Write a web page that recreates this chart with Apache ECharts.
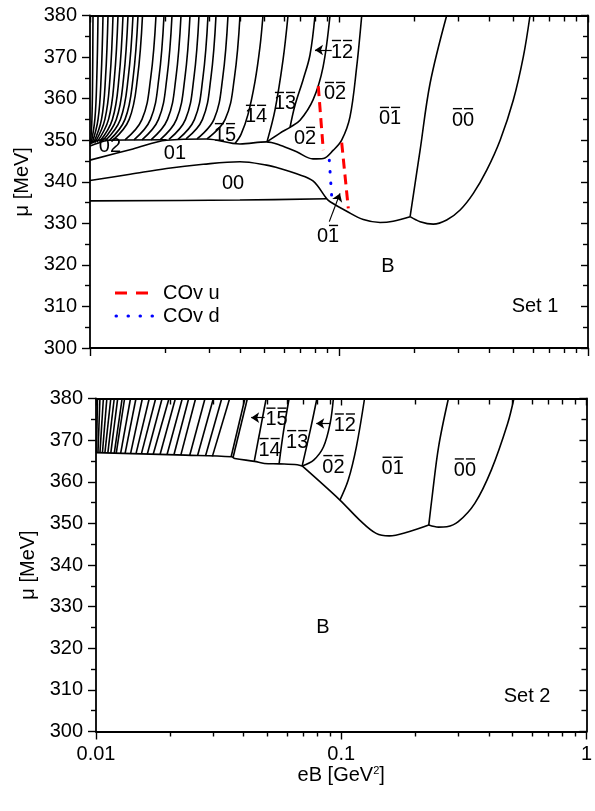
<!DOCTYPE html>
<html>
<head>
<meta charset="utf-8">
<script src="https://cdn.jsdelivr.net/npm/echarts@6/dist/echarts.min.js"></script>
<style>html,body{margin:0;padding:0;background:#fff}#main{width:595px;height:811px}</style>
</head>
<body>
<div id="main"></div>
<script>
var O = '\u0305'; // combining overline marks a barred index

// x axis ticks (eB, GeV^2)
var majorTicks = [0.01, 0.1, 1];
var minorTicks = [0.02, 0.03, 0.04, 0.05, 0.06, 0.07, 0.08, 0.09, 0.2, 0.3, 0.4, 0.5, 0.6, 0.7, 0.8, 0.9];
var xTickLabels = ['0.01', '0.1', '1'];

// ---------- Set 1 ----------
// Landau level fan lines above mu ~ 350 : [bottom, mu = 355, mu = 365, top]
var set1Fan = [
  [[0.0100464, 349.0], [0.0101773, 355], [0.0102433, 365], [0.0102813, 380]],
  [[0.0100929, 349.1], [0.0104587, 355], [0.0106490, 365], [0.0107678, 380]],
  [[0.0101867, 349.2], [0.0107728, 355], [0.0110810, 365], [0.0112774, 380]],
  [[0.0103290, 349.3], [0.0111220, 355], [0.0115411, 365], [0.0118110, 380]],
  [[0.0104732, 349.4], [0.0114773, 355], [0.0120315, 365], [0.0123699, 380]],
  [[0.0106687, 349.5], [0.0118712, 355], [0.0125311, 365], [0.0129553, 380]],
  [[0.0109183, 349.6], [0.0123015, 355], [0.0130757, 365], [0.0135684, 380]],
  [[0.0111736, 349.7], [0.0127533, 355], [0.0136439, 365], [0.0142105, 380]],
  [[0.0114879, 349.8], [0.0132460, 355], [0.0142368, 365], [0.0148830, 380]],
  [[0.0119209, 349.9], [0.0138217, 355], [0.0148968, 365], [0.0155873, 380]],
  [[0.0123699, 350.0], [0.0143691, 355], [0.0155154, 365], [0.0162496, 380]],
  [[0.0138217, 350.1], [0.0161746, 355], [0.0175301, 365], [0.0184107, 380]],
  [[0.0150216, 350.1], [0.0174977, 355], [0.0189111, 365], [0.0198244, 380]],
  [[0.0161746, 350.1], [0.0188413, 355], [0.0203633, 365], [0.0213467, 380]],
  [[0.0175788, 350.1], [0.0204766, 355], [0.0221306, 365], [0.0231994, 380]],
  [[0.0191040, 350.1], [0.0222538, 355], [0.0240513, 365], [0.0252120, 380]],
  [[0.0207623, 350.2], [0.0241851, 355], [0.0261379, 365], [0.0274001, 380]],
  [[0.0225642, 350.2], [0.0262834, 355], [0.0284063, 365], [0.0297781, 380]],
  [[0.0242963, 350.3], [0.0283014, 355], [0.0305875, 365], [0.0320645, 380]],
  [[0.0268979, 350.3], [0.0314770, 355], [0.0341139, 365], [0.0358275, 380]],
  [[0.0295040, 350.3], [0.0348956, 355], [0.0380122, 365], [0.0400329, 380]]
];
var set1Floor = [[0.01, 335.4], [0.04, 335.6], [0.0893, 335.9]];
var set1Dome = [[0.01, 340.3], [0.0145, 341.8], [0.0203, 343.2], [0.0285, 344.2], [0.040, 344.8], [0.0512, 344.0],
  [0.058, 343.2], [0.0676, 341.9], [0.0786, 340.2], [0.0893, 335.9], [0.0921, 335.2], [0.1074, 332.9],
  [0.1252, 330.9], [0.1462, 330.2], [0.165, 330.5], [0.193, 331.6]];
var set1Bowl = [[0.193, 331.6], [0.2117, 330.4], [0.2391, 329.8], [0.2707, 330.8], [0.3065, 333.2], [0.3463, 337.2],
  [0.392, 342.8], [0.4437, 350.0], [0.501, 359.6], [0.55, 370.1], [0.585, 380]];
var set1Cusp = [[0.193, 331.6], [0.2117, 347.6], [0.2322, 363.7], [0.2707, 380]];
var set1Upper01 = [[0.01, 345.2], [0.01488, 347.9], [0.0203, 350.0], [0.0294, 350.3], [0.040, 349.1], [0.0512, 349.6],
  [0.058, 348.8], [0.0676, 347.2], [0.0786, 345.5], [0.0865, 345.6], [0.0949, 347.6], [0.1025, 350.0],
  [0.1107, 355.6], [0.1178, 367.7], [0.1234, 380]];
var set1Cap02a = [[0.01, 348.6], [0.0109, 349.4], [0.0118, 350.0], [0.0203, 350.1]];
var set1Cap02b = [[0.01, 349.4], [0.0106, 349.9], [0.0112, 350.1]];
var set1L15 = [[0.038226, 349.2], [0.040410, 351.4], [0.043108, 356.2], [0.045980, 364.1], [0.048162, 372.5], [0.049518, 380]];
var set1L14 = [[0.051379, 349.6], [0.055344, 357.3], [0.059594, 369.3], [0.062414, 380]];
var set1L02 = [[0.051379, 349.6], [0.057964, 351.7], [0.063582, 353.1], [0.069745, 354.8], [0.078653, 359.7], [0.086276, 367.6], [0.092013, 380]];
var set1L13 = [[0.063582, 353.1], [0.066571, 358.4], [0.071706, 364.5], [0.076472, 370.5], [0.080093, 380]];
var set1CovU = [[[0.082569, 363.0], [0.086475, 347.6]], [[0.10253, 349.4], [0.10898, 333.6]]];
var set1CovD = [[0.091411, 345.2], [0.093470, 336.4]];
var set1Labels = [
  ['02', 0.012031, 348.4], ['01', 0.021944, 346.7], ['00', 0.037531, 339.5],
  ['1' + O + '5' + O, 0.034842, 351.7], ['1' + O + '4' + O, 0.046416, 356.1], ['1' + O + '3' + O, 0.060691, 359.2],
  ['0' + O + '2' + O, 0.096368, 361.6], ['02' + O, 0.073017, 350.8], ['0' + O + '1' + O, 0.16030, 355.6],
  ['0' + O + '0' + O, 0.31474, 355.3], ['01' + O, 0.090319, 327.2], ['1' + O + '2' + O, 0.10281, 371.7],
  ['B', 0.15736, 319.5], ['Set 1', 0.6126, 309.9]
];
var set1Arrows = [[[0.093470, 371.7], [0.080093, 371.7]], [[0.091411, 330.4], [0.10093, 337.2]]];

// ---------- Set 2 ----------
var set2Fan = [
  [[0.010046, 367.0], [0.010140, 380]], [[0.010187, 367.0], [0.010377, 380]], [[0.010377, 367.0], [0.010719, 380]],
  [[0.010621, 366.9], [0.011073, 380]], [[0.010870, 366.9], [0.011491, 380]], [[0.011176, 366.9], [0.011869, 380]],
  [[0.011491, 366.9], [0.012260, 380]], [[0.011869, 366.8], [0.012782, 380]], [[0.012091, 366.8], [0.013081, 380]],
  [[0.012605, 366.8], [0.013828, 380]], [[0.013142, 366.8], [0.014553, 380]], [[0.013828, 366.7], [0.015456, 380]],
  [[0.014553, 366.7], [0.016488, 380]], [[0.015313, 366.7], [0.017513, 380]], [[0.016186, 366.6], [0.018603, 380]],
  [[0.017112, 366.6], [0.019847, 380]], [[0.018262, 366.6], [0.021078, 380]], [[0.019479, 366.5], [0.022489, 380]],
  [[0.020788, 366.5], [0.023883, 380]], [[0.022179, 366.4], [0.025482, 380]], [[0.024105, 366.3], [0.027832, 380]],
  [[0.025957, 366.3], [0.030104, 380]], [[0.027961, 366.2], [0.032572, 380]], [[0.029827, 366.1], [0.035081, 380]],
  [[0.035572, 366.0], [0.040492, 380]], [[0.036237, 365.9], [0.041441, 380]], [[0.044220, 365.0], [0.049424, 380]]
];
var set2Floor = [[0.01, 367.0], [0.0232, 366.4], [0.0357, 366.0], [0.0368, 365.6], [0.0443, 364.9], [0.0486, 364.4],
  [0.0558, 364.3], [0.0662, 364.1], [0.0693, 363.8]];
var set2Valley = [[0.0693, 363.8], [0.0988, 355.6], [0.1189, 350.8], [0.1388, 347.6], [0.1570, 347.0], [0.1885, 348.0], [0.2275, 349.6]];
var set2Bowl = [[0.2275, 349.6], [0.2495, 349.1], [0.2696, 349.2], [0.3002, 350.4], [0.3505, 354.8], [0.4092, 362.8],
  [0.4772, 374.0], [0.5060, 380]];
var set2Cusp = [[0.2275, 349.6], [0.2348, 356.4], [0.2495, 368.4], [0.2736, 380]];
var set2R02 = [[0.0988, 355.6], [0.1068, 360.4], [0.1153, 368.4], [0.1245, 380]];
var set2L12 = [[0.0693, 363.8], [0.0772, 365.2], [0.0847, 368.4], [0.0901, 374.0], [0.0929, 380]];
var set2L13 = [[0.0693, 363.8], [0.0748, 372.4], [0.0796, 380]];
var set2L14 = [[0.0558, 364.3], [0.0581, 371.9], [0.0613, 380]];
var set2Labels = [
  ['1' + O + '5' + O, 0.054456, 375.4], ['1' + O + '4' + O, 0.051048, 368.1], ['1' + O + '3' + O, 0.066152, 370.0],
  ['1' + O + '2' + O, 0.10348, 374.0], ['0' + O + '2' + O, 0.092943, 364.0], ['0' + O + '1' + O, 0.16207, 363.6],
  ['0' + O + '0' + O, 0.31944, 363.2], ['B', 0.084176, 324.9], ['Set 2', 0.5726, 308.3]
];
var set2Arrows = [[[0.048732, 375.4], [0.042928, 375.4]], [[0.090063, 374.0], [0.079111, 374.0]]];

var FONT = 'Liberation Sans';
var FS = 20;
var DW = 11.1; // digit advance at FS
var lg = function (v) { return Math.log(v) / Math.LN10; };

// text with combining overlines -> two-line rich text (bars above digits)
function barText(s) {
  if (s.indexOf(O) < 0) return s;
  var top = '', bottom = '';
  for (var i = 0; i < s.length; i++) {
    var c = s.charAt(i);
    if (c === O) continue;
    var barred = s.charAt(i + 1) === O;
    top += '{g|}' + (barred ? '{bar|}' : '{nb|}') + '{g|}';
    bottom += '{d|' + c + '}';
  }
  return top + '\n' + bottom;
}
var labelRich = {
  g: { width: 1, height: 1.4, lineHeight: 4 },
  bar: { width: DW - 2, height: 1.4, lineHeight: 4, backgroundColor: '#000' },
  nb: { width: DW - 2, height: 1.4, lineHeight: 4 },
  d: { width: DW, fontSize: FS, lineHeight: 19, fontFamily: FONT, color: '#000' }
};

function tickAxis(grid, pos, vals, len, inside, showLine, withLabels) {
  var ax = {
    type: 'value', gridIndex: grid, position: pos, min: -2, max: 0,
    axisLine: { show: showLine, onZero: false, lineStyle: { color: '#000', width: 1.8 } },
    axisTick: { show: true, inside: inside, length: len, customValues: vals.map(lg), lineStyle: { color: '#000', width: 1.4 } },
    axisLabel: { show: false },
    splitLine: { show: false }
  };
  if (withLabels) {
    ax.axisLabel = {
      show: true, customValues: majorTicks.map(lg), color: '#000', fontSize: FS, fontFamily: FONT, margin: 13,
      formatter: function (v) {
        var i = 0;
        majorTicks.forEach(function (t, k) { if (Math.abs(lg(t) - v) < 1e-6) i = k; });
        return xTickLabels[i];
      }
    };
    ax.name = 'eB [GeV{s|2}]';
    ax.nameLocation = 'middle';
    ax.nameGap = 32;
    ax.nameTextStyle = { color: '#000', fontSize: FS, fontFamily: FONT,
      rich: { s: { fontSize: 11, fontFamily: FONT, color: '#000', verticalAlign: 'top', padding: [0, 0, 8, 0] } } };
  }
  return ax;
}
function yAxis(grid, pos) {
  var left = pos === 'left';
  return {
    type: 'value', gridIndex: grid, position: pos, min: 300, max: 380, interval: 10,
    axisLine: { show: true, onZero: false, lineStyle: { color: '#000', width: 1.8 } },
    axisTick: { show: true, inside: !left, length: left ? 8 : 7, lineStyle: { color: '#000', width: 1.4 } },
    minorTick: { show: true, splitNumber: 2, length: 5, lineStyle: { color: '#000', width: 1.4 } },
    axisLabel: { show: left, color: '#000', fontSize: FS, fontFamily: FONT, margin: 13 },
    splitLine: { show: false }, minorSplitLine: { show: false },
    name: left ? '\u03bc [MeV]' : '', nameLocation: 'middle', nameGap: 58,
    nameTextStyle: { color: '#000', fontSize: FS, fontFamily: FONT }
  };
}

var series = [];
function curve(data, xi, yi, sm) {
  series.push({
    type: 'line', xAxisIndex: xi, yAxisIndex: yi, data: data, showSymbol: false, symbol: 'none',
    smooth: sm, smoothMonotone: 'none', silent: true,
    lineStyle: { color: '#000', width: 1.6 }
  });
}
function labels(list, arrows, xi, yi) {
  series.push({
    type: 'scatter', xAxisIndex: xi, yAxisIndex: yi, symbolSize: 1, silent: true,
    itemStyle: { color: 'rgba(0,0,0,0)', opacity: 1 },
    data: list.map(function (l) { return { name: l[0], value: [l[1], l[2]] }; }),
    label: {
      show: true, position: 'inside', color: '#000', fontSize: FS, fontFamily: FONT, rich: labelRich,
      formatter: function (p) { return barText(p.name); }
    },
    markLine: {
      silent: true, symbol: ['none', 'arrow'], symbolSize: 8, label: { show: false },
      lineStyle: { color: '#000', width: 1.2, type: 'solid', opacity: 1 },
      data: arrows.map(function (a) { return [{ coord: a[0] }, { coord: a[1] }]; })
    }
  });
}

// Set 1 (top grid: x 0, y 0)
set1Fan.forEach(function (l) { curve(l, 0, 0, 0.4); });
[set1Floor, set1Dome, set1Bowl, set1Cusp, set1Upper01, set1Cap02a, set1Cap02b, set1L15, set1L14, set1L02, set1L13]
  .forEach(function (l) { curve(l, 0, 0, 0.35); });
set1CovU.forEach(function (seg) {
  series.push({ name: 'COv u', type: 'line', xAxisIndex: 0, yAxisIndex: 0, data: seg, symbol: 'none', silent: true,
    lineStyle: { color: '#ff0000', width: 3, type: [10, 6] } });
});
series.push({ name: 'COv d', type: 'line', xAxisIndex: 0, yAxisIndex: 0, data: set1CovD, symbol: 'none', silent: true,
  lineStyle: { color: '#0000ff', width: 3, type: [0.5, 11], cap: 'round' } });
labels(set1Labels, set1Arrows, 0, 0);

// Set 2 (bottom grid: x 5, y 2)
set2Fan.forEach(function (l) { curve(l, 5, 2, false); });
[set2Floor, set2Valley, set2Bowl, set2Cusp, set2R02, set2L12, set2L13, set2L14]
  .forEach(function (l) { curve(l, 5, 2, 0.35); });
labels(set2Labels, set2Arrows, 5, 2);

var option = {
  animation: false,
  backgroundColor: '#fff',
  textStyle: { fontFamily: FONT },
  grid: [
    { left: 90, top: 15.5, width: 498, height: 332.5 },
    { left: 96, top: 398.5, width: 497, height: 333 }
  ],
  // legend of the crossover lines, drawn as in the original figure
  graphic: [
    { type: 'line', shape: { x1: 115, y1: 293, x2: 148, y2: 293 }, style: { stroke: '#ff0000', lineWidth: 3, lineDash: [12, 9] } },
    { type: 'line', shape: { x1: 116, y1: 316, x2: 158, y2: 316 }, style: { stroke: '#0000ff', lineWidth: 3, lineDash: [0.5, 11.5], lineCap: 'round' } },
    { type: 'text', x: 163, y: 293, style: { text: 'COv u', fill: '#000', fontSize: FS, fontFamily: FONT, verticalAlign: 'middle' } },
    { type: 'text', x: 163, y: 316, style: { text: 'COv d', fill: '#000', fontSize: FS, fontFamily: FONT, verticalAlign: 'middle' } }
  ],
  xAxis: [
    { type: 'log', logBase: 10, gridIndex: 0, min: 0.01, max: 1, show: false },
    tickAxis(0, 'bottom', majorTicks, 8, false, true, false),
    tickAxis(0, 'bottom', minorTicks, 5, false, false, false),
    tickAxis(0, 'top', majorTicks, 7, true, true, false),
    tickAxis(0, 'top', minorTicks, 6, true, false, false),
    { type: 'log', logBase: 10, gridIndex: 1, min: 0.01, max: 1, show: false },
    tickAxis(1, 'bottom', majorTicks, 8, false, true, true),
    tickAxis(1, 'bottom', minorTicks, 5, false, false, false),
    tickAxis(1, 'top', majorTicks, 7, true, true, false),
    tickAxis(1, 'top', minorTicks, 6, true, false, false)
  ],
  yAxis: [yAxis(0, 'left'), yAxis(0, 'right'), yAxis(1, 'left'), yAxis(1, 'right')],
  series: series
};

var chart = echarts.init(document.getElementById('main'));
chart.setOption(option);
</script>
</body>
</html>
